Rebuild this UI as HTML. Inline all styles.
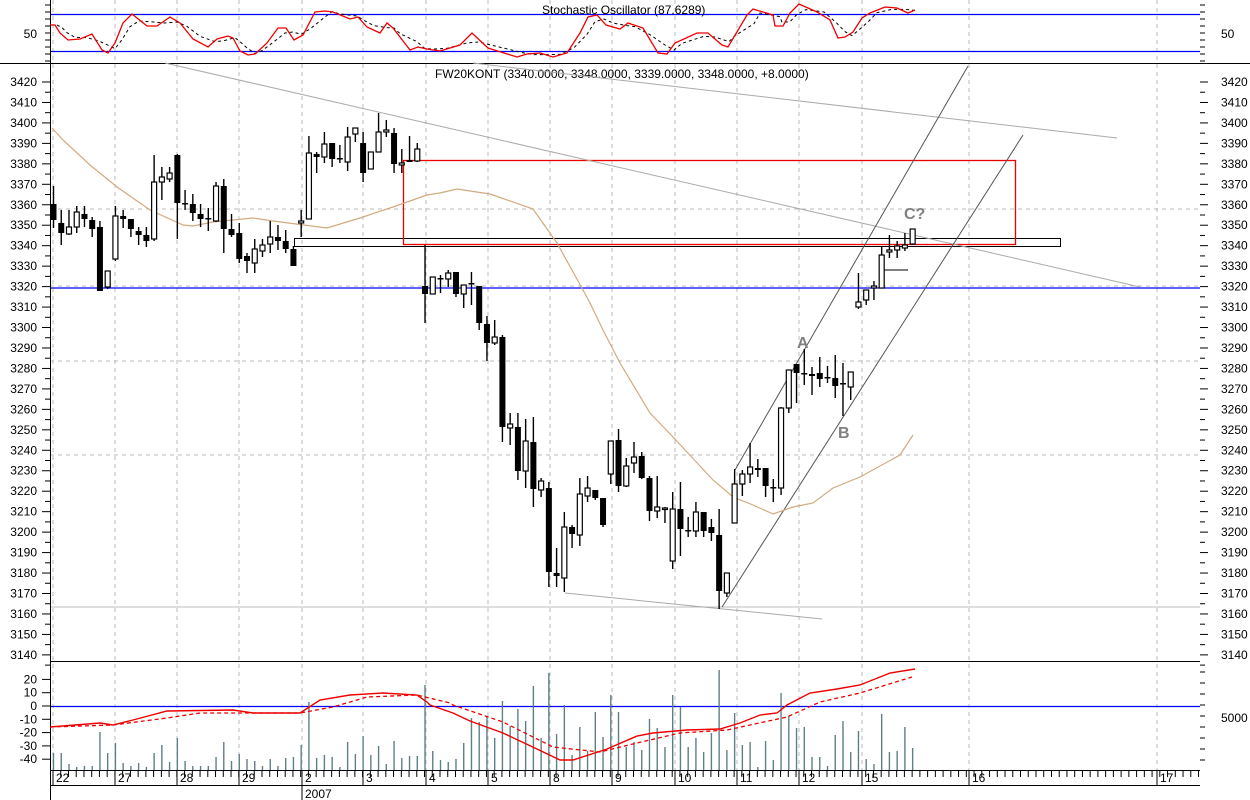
<!DOCTYPE html>
<html><head><meta charset="utf-8"><style>
html,body{margin:0;padding:0;background:#fff;}
svg{display:block;font-family:"Liberation Sans",sans-serif;font-size:12px;}
</style></head><body>
<svg id="c" width="1250" height="800" xmlns="http://www.w3.org/2000/svg"></svg>
<script>
const S=document.getElementById('c');let h='';
const Y=p=>82+(3420-p)*2.046;
// vertical dashed grid
const gx=[53,115,177,239,302,363,426,488,550,612,675,737,799,862,969,1157];
gx.forEach(x=>h+=`<line x1="${x}" y1="0" x2="${x}" y2="770" stroke="#bbb" stroke-dasharray="4,4"/>`);
[209,286,361,455].forEach(y=>h+=`<line x1="50" y1="${y}" x2="1200" y2="${y}" stroke="#bbb" stroke-dasharray="4,4"/>`);
// panel lines
h+=`<line x1="0" y1="63.5" x2="1250" y2="63.5" stroke="#000"/>`;
h+=`<line x1="50" y1="661.5" x2="1200" y2="661.5" stroke="#000"/>`;
h+=`<line x1="50" y1="14.5" x2="1200" y2="14.5" stroke="#00f" stroke-width="1.3"/>`;
h+=`<line x1="50" y1="51.5" x2="1200" y2="51.5" stroke="#00f" stroke-width="1.3"/>`;
h+=`<line x1="50" y1="706.5" x2="1200" y2="706.5" stroke="#00f" stroke-width="1.3"/>`;
h+=`<line x1="50" y1="288" x2="1200" y2="288" stroke="#00f" stroke-width="1.3"/>`;
h+=`<line x1="50" y1="607" x2="1200" y2="607" stroke="#bbb"/>`;
// left axis
h+=`<line x1="50.5" y1="0" x2="50.5" y2="800" stroke="#000"/>`;
for(let p=3420;p>=3135;p-=5){let y=Y(p);h+=`<line x1="${p%10?45:42}" y1="${y}" x2="50" y2="${y}" stroke="#000"/><line x1="1200" y1="${y}" x2="${p%10?1205:1208}" y2="${y}" stroke="#000"/>`;
 if(p%10==0&&p>=3140){h+=`<text x="37" y="${y+4}" text-anchor="end">${p}</text><text x="1221" y="${y+4}">${p}</text>`;}}
for(let y=5;y<63;y+=7)h+=`<line x1="45" y1="${y}" x2="50" y2="${y}" stroke="#000"/><line x1="1200" y1="${y}" x2="1205" y2="${y}" stroke="#000"/>`;
h+=`<text x="37" y="38" text-anchor="end">50</text><text x="1221" y="38">50</text>`;
[20,10,0,-10,-20,-30,-40].forEach(v=>{let y=706-v*1.33;h+=`<text x="37" y="${y+4}" text-anchor="end">${v}</text><line x1="42" y1="${y}" x2="50" y2="${y}" stroke="#000"/>`;});
for(let y=672;y<770;y+=11)h+=`<line x1="1200" y1="${y}" x2="1205" y2="${y}" stroke="#000"/>`;
h+=`<text x="1221" y="722">5000</text>`;
// date axis
h+=`<line x1="50" y1="770.5" x2="1200" y2="770.5" stroke="#000"/><line x1="50" y1="785.5" x2="1200" y2="785.5" stroke="#000"/>`;
for(let x=53;x<1200;x+=7.74)h+=`<line x1="${x}" y1="770" x2="${x}" y2="777" stroke="#000"/>`;
const dl=['22','27','28','29','2','3','4','5','8','9','10','11','12','15','16','17'];
gx.forEach((x,i)=>{h+=`<line x1="${x}" y1="770" x2="${x}" y2="785" stroke="#000"/><text x="${x+3}" y="782">${dl[i]}</text>`;});
h+=`<line x1="302" y1="785" x2="302" y2="800" stroke="#000"/><text x="305" y="798">2007</text>`;
// titles
h+=`<text x="542" y="14">Stochastic Oscillator (87.6289)</text>`;
h+=`<text x="435" y="78">FW20KONT (3340.0000, 3348.0000, 3339.0000, 3348.0000, +8.0000)</text>`;
// stochastic
const st=[[50,25],[55,25],[60,33],[68,40],[80,39],[92,34],[102,50],[108,53],[115,43],[123,23],[132,14],[147,26],[157,26],[170,17],[180,23],[193,39],[208,47],[217,39],[228,36],[233,38],[240,51],[248,55],[255,54],[267,43],[278,28],[286,28],[294,40],[303,35],[315,12],[325,11],[333,12],[350,19],[358,17],[367,27],[380,33],[387,23],[393,28],[410,50],[418,47],[427,49],[440,51],[460,45],[472,33],[488,48],[517,57],[527,54],[540,53],[553,57],[567,53],[580,33],[588,17],[597,15],[606,25],[620,29],[628,23],[643,28],[658,53],[667,54],[675,43],[697,33],[708,33],[722,45],[728,47],[747,15],[753,9],[773,15],[775,26],[783,26],[790,13],[799,4],[817,12],[830,20],[838,38],[845,37],[853,32],[862,18],[870,13],[885,7],[897,8],[908,13],[915,10]];
let sd=[];for(let i=0;i<st.length;i++){let a=st[Math.max(0,i-1)],b=st[i],c=st[Math.min(st.length-1,i+1)];sd.push([b[0]+7,(a[1]+b[1]+c[1])/3]);}
sd=sd.filter(p=>p[0]<=915);
h+=`<polyline points="${sd.join(' ')}" fill="none" stroke="#000" stroke-dasharray="3,3"/>`;
h+=`<polyline points="${st.join(' ')}" fill="none" stroke="#e00" stroke-width="1.3"/>`;
// rectangles
h+=`<rect x="294.5" y="238.5" width="766" height="8" fill="none" stroke="#000"/>`;
h+=`<rect x="403.5" y="160.5" width="612" height="84" fill="none" stroke="#e00" stroke-width="1.3"/>`;
// trend lines
h+=`<line x1="165" y1="63" x2="1140" y2="287" stroke="#aaa"/>`;
h+=`<line x1="473" y1="63" x2="1117" y2="138" stroke="#aaa"/>`;
h+=`<line x1="565" y1="593" x2="822" y2="619" stroke="#aaa"/>`;
h+=`<line x1="735" y1="470" x2="968" y2="66" stroke="#555"/>`;
h+=`<line x1="722" y1="607" x2="1023" y2="135" stroke="#555"/>`;
// MA
const ma=[[52,128],[63,140],[90,165],[117,187],[150,210],[183,225],[193,226],[213,222],[253,218],[273,221],[327,228],[360,218],[393,207],[427,195],[440,193],[457,189],[490,194],[533,209],[557,243],[583,290],[590,303],[603,330],[620,363],[650,413],[673,437],[713,480],[733,497],[753,505],[773,514],[793,507],[813,503],[833,488],[860,477],[900,455],[913,435]];
h+=`<polyline points="${ma.join(' ')}" fill="none" stroke="#d2aa80" stroke-width="1.2"/>`;
// candles
const C=[[204,220,186,228,1],[223,233,210,245,1],[227,234,210,235,0],[212,227,206,233,0],[214,219,206,227,1],[220,229,217,237,1],[227,291,221,291,1],[271,287,271,289,0],[216,259,206,261,0],[216,219,210,228,1],[219,229,219,237,1],[231,235,227,245,1],[235,241,227,247,1],[182,239,155,241,0],[177,182,167,200,0],[173,179,167,182,0],[155,203,154,239,1],[203,204,190,210,1],[204,213,194,221,1],[214,219,204,227,1],[218,219,208,231,1],[186,221,182,222,0],[186,229,179,253,1],[229,235,214,237,1],[233,259,223,263,1],[256,261,253,273,1],[249,263,239,273,0],[245,251,239,257,0],[237,244,221,253,0],[237,241,225,250,1],[241,249,230,253,1],[249,266,246,266,1],[221,223,210,237,0],[153,219,136,219,0],[154,157,152,173,1],[144,157,132,163,0],[143,159,143,167,1],[158,159,145,163,1],[137,162,127,171,0],[128,134,128,142,0],[143,173,132,182,1],[152,169,152,169,0],[132,152,113,152,0],[130,132,120,137,0],[133,164,128,173,1],[163,165,149,173,0],[160,162,136,162,1],[149,161,143,162,0],[286,294,245,323,1],[277,294,277,294,0],[278,279,275,293,1],[273,279,270,287,0],[272,294,272,297,1],[285,294,285,308,0],[283,284,272,305,1],[286,323,286,330,1],[324,343,316,361,1],[337,343,320,345,0],[337,427,335,442,1],[424,428,413,445,0],[427,471,413,480,1],[441,471,419,488,0],[442,489,417,507,1],[481,490,478,497,0],[488,572,482,587,1],[573,576,548,587,1],[527,578,512,592,0],[527,534,525,548,1],[494,535,478,546,0],[488,496,476,502,0],[490,498,490,500,1],[498,525,498,527,1],[441,474,441,484,0],[440,486,429,492,1],[466,486,458,487,0],[457,463,442,473,0],[456,478,452,479,1],[478,511,476,521,1],[507,511,476,518,0],[508,509,507,523,0],[509,561,492,569,0],[509,529,482,556,1],[530,531,517,537,1],[512,531,502,537,0],[512,531,512,537,1],[527,533,519,541,1],[535,591,509,609,1],[573,593,573,597,0],[484,523,469,523,0],[474,484,470,496,0],[467,474,443,483,0],[468,470,459,477,1],[468,486,468,497,1],[487,488,479,502,1],[408,488,407,495,0],[370,408,370,413,0],[364,373,364,403,1],[373,374,349,385,1],[374,376,367,395,1],[373,379,357,387,1],[377,378,366,383,1],[378,386,355,398,1],[383,384,363,416,1],[372,387,372,400,0],[302,307,273,309,0],[290,300,290,305,0],[286,288,281,300,0],[255,288,247,288,0],[250,252,235,258,0],[246,250,241,258,0],[245,248,233,251,0],[229,244,229,245,0]];
const V=[753,753,764,767,766,766,732,753,743,763,766,763,767,753,745,762,738,761,766,766,766,757,742,761,754,759,761,766,759,766,758,757,745,702,758,755,757,767,742,754,736,755,746,764,741,758,756,756,685,751,760,762,759,743,718,722,716,738,701,726,709,721,686,738,673,734,705,755,727,751,712,737,695,712,747,742,750,719,728,747,695,707,747,738,752,733,670,750,713,745,742,767,741,760,693,716,728,727,757,757,766,735,721,752,731,759,764,714,752,751,727,748];
V.forEach((t,i)=>{let x=53.5+i*7.74;h+=`<line x1="${x}" y1="${t}" x2="${x}" y2="770" stroke="#5f7f88" stroke-width="1.4"/>`;});
C.forEach((c,i)=>{let x=53.5+i*7.74;h+=`<line x1="${x}" y1="${c[2]}" x2="${x}" y2="${c[3]}" stroke="#000" stroke-width="1.4"/>`;
 let hh=Math.max(c[1]-c[0],1.5);h+=c[4]?`<rect x="${x-3}" y="${c[0]}" width="6" height="${hh}" fill="#000"/>`:`<rect x="${x-2.5}" y="${c[0]}" width="5" height="${hh}" fill="#fff" stroke="#000" stroke-width="1.2"/>`;});
h+=`<line x1="884" y1="270" x2="908" y2="270" stroke="#000"/>`;
// MACD
const m1=[[50,727],[100,723],[113,725],[133,720],[167,711],[233,710],[253,713],[300,713],[320,700],[350,695],[383,693],[417,695],[427,702],[430,705],[453,713],[470,721],[503,733],[537,749],[560,760],[573,760],[607,749],[637,736],[653,733],[687,730],[720,729],[740,723],[760,715],[777,713],[787,705],[810,693],[837,689],[860,685],[890,673],[915,669]];
const m2=[[50,727],[113,725],[167,718],[200,713],[300,713],[333,707],[367,697],[417,695],[450,703],[453,705],[503,722],[553,747],[600,752],[637,743],[680,733],[727,730],[787,717],[820,702],[860,693],[912,677]];
h+=`<polyline points="${m2.join(' ')}" fill="none" stroke="#e00" stroke-width="1.3" stroke-dasharray="4,3"/>`;
h+=`<polyline points="${m1.join(' ')}" fill="none" stroke="#e00" stroke-width="1.4"/>`;
// labels
h+=`<g fill="#808080" font-size="16" font-weight="bold"><text x="797" y="348">A</text><text x="838" y="438">B</text><text x="904" y="219">C?</text></g>`;
S.innerHTML=h;
</script>
</body></html>
